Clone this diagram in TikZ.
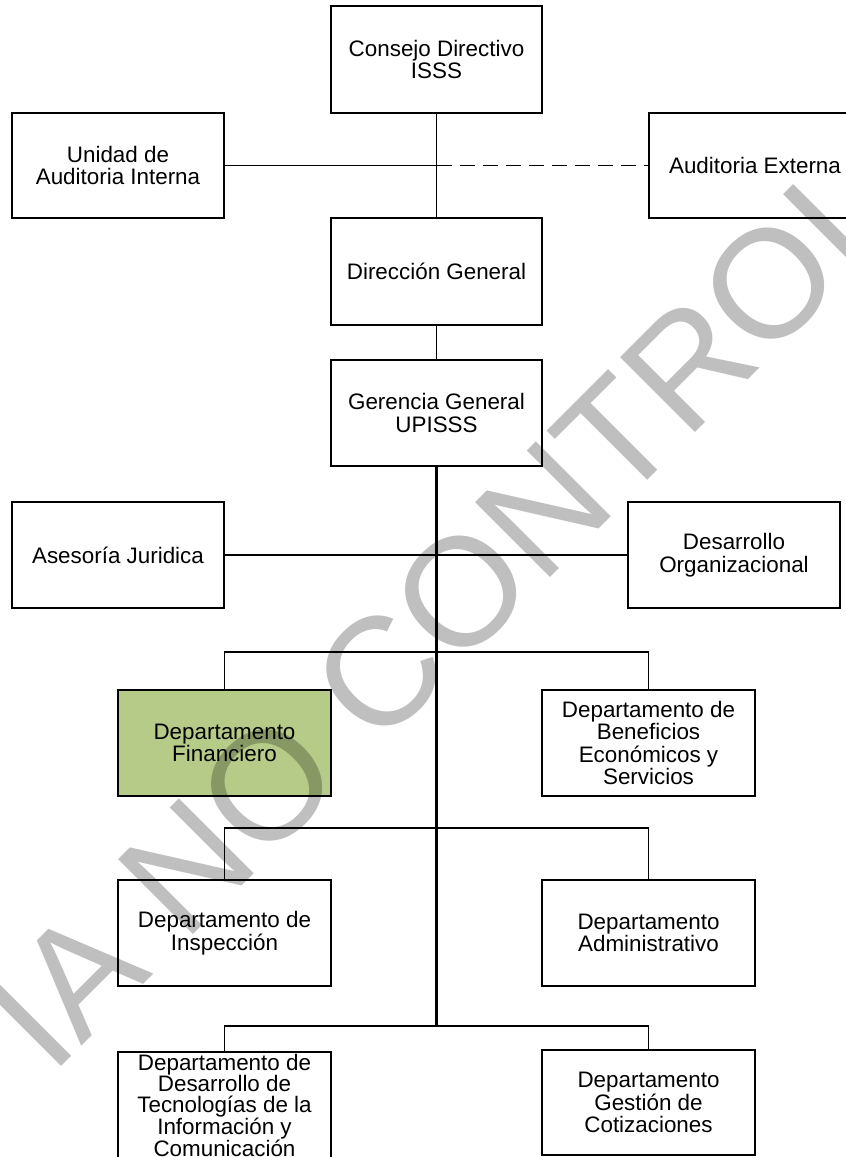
\documentclass[tikz,border=0pt]{standalone}
\usepackage{fontspec}
\setmainfont{Liberation Sans}
\definecolor{finGreen}{RGB}{182,203,136}
\tikzset{
  box/.style={draw, line width=1.5pt, minimum width=212pt, minimum height=106pt,
    inner sep=0pt, align=center, fill=white,
    font=\fontsize{22.4}{22.6}\selectfont},
  link/.style={line width=1.5pt},
  trunk/.style={line width=2.6pt},
  dashlink/.style={line width=1.5pt, dash pattern=on 15pt off 8pt},
  watermark/.style={text=black, text opacity=0.25, inner sep=0pt,
    font=\fontsize{154}{154}\selectfont}
}
\begin{document}
\begin{tikzpicture}[x=1pt,y=-1pt]
\useasboundingbox (0,0) rectangle (846,1157);
\clip (0,0) rectangle (846,1157);
% connectors first
\coordinate (j1) at (436.5,165.5);
\coordinate (b1) at (436.5,652);
\coordinate (b2) at (436.5,828);
\coordinate (b3) at (436.5,1026);
% boxes
\node[box, minimum width=211pt, minimum height=107pt] (cd) at (436.5,59.5) {Consejo Directivo\\ISSS};
\node[box, minimum height=105pt] (uai) at (118,165.5) {Unidad de\\Auditoria Interna};
\node[box, minimum height=105pt] (ae) at (755,165.5) {Auditoria Externa};
\node[box, minimum width=211pt, minimum height=107pt] (dg) at (436.5,271.5) {Dirección General};
\node[box, minimum width=211pt] (gg) at (436.5,413) {Gerencia General\\UPISSS};
\node[box] (aj) at (118,555) {Asesoría Juridica};
\node[box] (do) at (734,555) {Desarrollo\\Organizacional};
\node[box, minimum width=213pt, fill=finGreen] (df) at (224.5,743) {Departamento\\Financiero};
\node[box, minimum width=213pt] (dbes) at (648.5,743) {Departamento de\\Beneficios\\Económicos y\\Servicios};
\node[box, minimum width=213pt] (di) at (224.5,933) {Departamento de\\Inspección};
\node[box, minimum width=213pt] (da) at (648.5,933) {Departamento\\Administrativo};
\node[box, minimum width=213pt, minimum height=107pt, font=\fontsize{22.4}{21}\selectfont] (dt) at (224.5,1105.5) {Departamento de\\Desarrollo de\\Tecnologías de la\\Información y\\Comunicación};
\node[box, minimum width=213pt, minimum height=105pt] (dgc) at (648.5,1102.5) {Departamento\\Gestión de\\Cotizaciones};
% connectors
\draw[link] (cd.south) -- (dg.north);
\draw[link] (uai.east) -- (j1);
\draw[dashlink] (j1) -- (ae.west);
\draw[link] (dg.south) -- (gg.north);
\draw[trunk] (gg.south) -- (b3);
\draw[link] (aj.east) -- (do.west);
\draw[link] (df.north) |- (b1) -| (dbes.north);
\draw[link] (di.north) |- (b2) -| (da.north);
\draw[link] (dt.north) |- (b3) -| (dgc.north);
% watermark
\node[watermark, rotate=45, anchor=base west] (wm) at (51,1077) {IA NO CONTROL};
\end{tikzpicture}
\end{document}
